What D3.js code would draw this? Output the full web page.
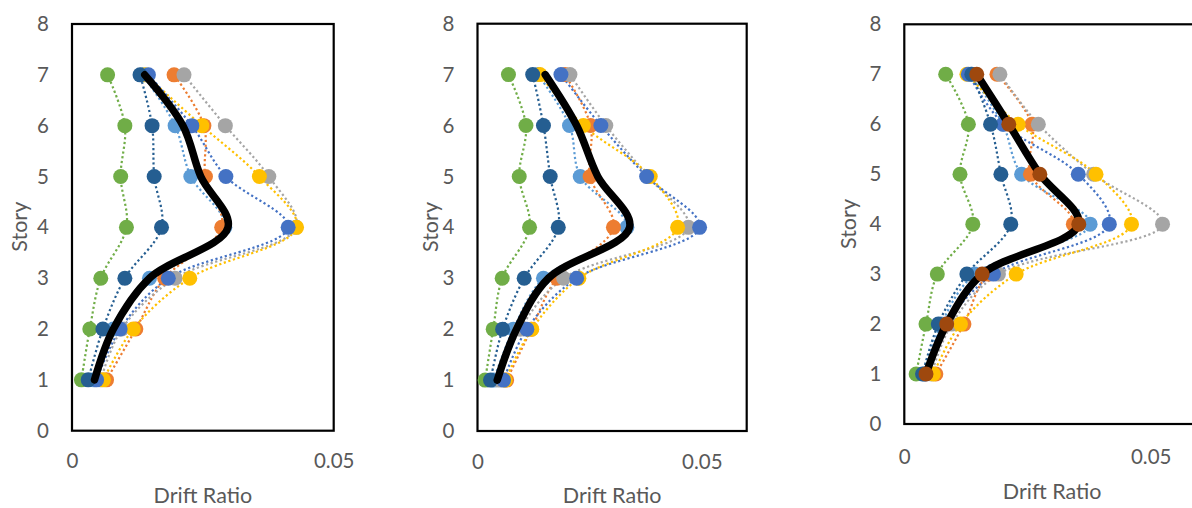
<!DOCTYPE html>
<html><head><meta charset="utf-8">
<script src="https://cdn.jsdelivr.net/npm/d3@7"></script>
<style>
html,body{margin:0;padding:0;background:#fff;}
svg text{font-family:Lato,"Open Sans",sans-serif;fill:#595959;}
</style></head>
<body><svg id="c" width="1192" height="508"></svg>
<script>
// ---- data ----
const stories = [1, 2, 3, 4, 5, 6, 7];
const yTicks = [0, 1, 2, 3, 4, 5, 6, 7, 8];
const xTicks = [0, 0.05];
const xTickLabels = ["0", "0.05"];
const xTitle = "Drift Ratio";
const yTitle = "Story";

// series names (draw order) and colours
const seriesNames = ["lightblue", "orange", "gray", "yellow", "blue", "green", "darkblue"];
const seriesColors = ["#5B9BD5", "#ED7D31", "#A5A5A5", "#FFC000", "#4472C4", "#70AD47", "#255E91"];

// panel 1 values by story 1..7
const p1_lightblue = [0.0042, 0.0079, 0.0148, 0.0292, 0.0227, 0.0197, 0.0135];
const p1_orange    = [0.0066, 0.0122, 0.0177, 0.0286, 0.0255, 0.0252, 0.0195];
const p1_gray      = [0.0055, 0.0095, 0.0197, 0.0428, 0.0376, 0.0293, 0.0214];
const p1_yellow    = [0.0060, 0.0117, 0.0225, 0.0429, 0.0358, 0.0248, 0.0140];
const p1_blue      = [0.0047, 0.0092, 0.0184, 0.0413, 0.0294, 0.0229, 0.0146];
const p1_green     = [0.0018, 0.0034, 0.0055, 0.0104, 0.0093, 0.0101, 0.0068];
const p1_darkblue  = [0.0031, 0.0059, 0.0101, 0.0171, 0.0157, 0.0153, 0.0130];
const p1_mean      = [0.0043, 0.0079, 0.0148, 0.0298, 0.0246, 0.0212, 0.0139];

// panel 2
const p2_lightblue = [0.0036, 0.0080, 0.0147, 0.0333, 0.0229, 0.0205, 0.0135];
const p2_orange    = [0.0065, 0.0120, 0.0177, 0.0303, 0.0251, 0.0252, 0.0195];
const p2_gray      = [0.0048, 0.0095, 0.0192, 0.0470, 0.0380, 0.0286, 0.0206];
const p2_yellow    = [0.0062, 0.0121, 0.0226, 0.0446, 0.0385, 0.0236, 0.0139];
const p2_blue      = [0.0058, 0.0110, 0.0221, 0.0495, 0.0377, 0.0275, 0.0186];
const p2_green     = [0.0017, 0.0035, 0.0055, 0.0116, 0.0093, 0.0108, 0.0069];
const p2_darkblue  = [0.0029, 0.0056, 0.0104, 0.0180, 0.0162, 0.0147, 0.0123];
const p2_mean      = [0.0044, 0.0087, 0.0158, 0.0339, 0.0268, 0.0221, 0.0151];

// panel 3
const p3_lightblue = [0.0040, 0.0075, 0.0143, 0.0377, 0.0238, 0.0200, 0.0135];
const p3_orange    = [0.0064, 0.0121, 0.0170, 0.0343, 0.0256, 0.0259, 0.0188];
const p3_gray      = [0.0055, 0.0096, 0.0191, 0.0524, 0.0384, 0.0272, 0.0194];
const p3_yellow    = [0.0059, 0.0114, 0.0227, 0.0461, 0.0389, 0.0231, 0.0127];
const p3_blue      = [0.0043, 0.0085, 0.0181, 0.0416, 0.0353, 0.0201, 0.0130];
const p3_green     = [0.0024, 0.0044, 0.0067, 0.0139, 0.0113, 0.0130, 0.0084];
const p3_darkblue  = [0.0037, 0.0069, 0.0127, 0.0216, 0.0196, 0.0175, 0.0137];
const p3_mean      = [0.0044, 0.0086, 0.0158, 0.0354, 0.0275, 0.0212, 0.0147];

// ---- layout ----
const panels = [
  { series: [p1_lightblue, p1_orange, p1_gray, p1_yellow, p1_blue, p1_green, p1_darkblue], mean: p1_mean, meanMarkers: false,
    xMax: 0.05, x0: 72, x1: 333.7, yB: 430.7, yT: 24, storyX: 26.7, storyY: 226.7, titleBase: 503, tickPad: 23 },
  { series: [p2_lightblue, p2_orange, p2_gray, p2_yellow, p2_blue, p2_green, p2_darkblue], mean: p2_mean, meanMarkers: false,
    xMax: 0.06, x0: 477.5, x1: 746.7, yB: 431, yT: 23.7, storyX: 438, storyY: 227, titleBase: 503, tickPad: 23 },
  { series: [p3_lightblue, p3_orange, p3_gray, p3_yellow, p3_blue, p3_green, p3_darkblue], mean: p3_mean, meanMarkers: true,
    xMax: 0.06, x0: 904.3, x1: 1200, yB: 424, yT: 24.3, storyX: 856, storyY: 224, titleBase: 499, tickPad: 25 }
];

const svg = d3.select("#c");
svg.append("rect").attr("width", 1192).attr("height", 508).attr("fill", "#fff");

panels.forEach(p => {
  const x = d3.scaleLinear().domain([0, p.xMax]).range([p.x0, p.x1]);
  const y = d3.scaleLinear().domain([0, 8]).range([p.yB, p.yT]);
  const g = svg.append("g");

  // frame
  g.append("rect").attr("x", x(0)).attr("y", y(8)).attr("width", x(p.xMax) - x(0)).attr("height", y(0) - y(8))
    .attr("fill", "none").attr("stroke", "#000").attr("stroke-width", 2.2);

  // axes
  const ya = g.append("g").attr("transform", `translate(${x(0)},0)`)
    .call(d3.axisLeft(y).tickValues(yTicks).tickSize(0).tickPadding(23).tickFormat(d3.format("d")));
  ya.select(".domain").remove();
  ya.selectAll("text").attr("font-size", 20.5).attr("fill", "#595959").attr("font-family", "Lato");

  const xa = g.append("g").attr("transform", `translate(0,${y(0)})`)
    .call(d3.axisBottom(x).tickValues(xTicks).tickSize(0).tickPadding(p.tickPad).tickFormat((d, i) => xTickLabels[i]));
  xa.select(".domain").remove();
  xa.selectAll("text").attr("font-size", 20.5).attr("fill", "#595959").attr("font-family", "Lato");

  // titles
  g.append("text").attr("x", (x(0) + x(p.xMax)) / 2).attr("y", p.titleBase).attr("text-anchor", "middle")
    .attr("font-size", 21.5).text(xTitle);
  g.append("text").attr("transform", `translate(${p.storyX},${p.storyY}) rotate(-90)`).attr("text-anchor", "middle")
    .attr("font-size", 21.5).text(yTitle);

  const line = d3.line().x(d => x(d[0])).y(d => y(d[1])).curve(d3.curveCatmullRom.alpha(0.5));
  const pts = arr => arr.map((v, i) => [v, stories[i]]);

  // dotted series lines
  p.series.forEach((s, k) => {
    g.append("path").attr("d", line(pts(s))).attr("fill", "none")
      .attr("stroke", seriesColors[k]).attr("stroke-width", 2.2).attr("stroke-dasharray", "2.2 2.6");
  });
  // markers
  p.series.forEach((s, k) => {
    g.selectAll(null).data(pts(s)).enter().append("circle")
      .attr("cx", d => x(d[0])).attr("cy", d => y(d[1])).attr("r", 7.5).attr("fill", seriesColors[k]);
  });
  // mean line
  g.append("path").attr("d", line(pts(p.mean))).attr("fill", "none").attr("stroke", "#000")
    .attr("stroke-width", 7.5).attr("stroke-linecap", "round").attr("stroke-linejoin", "round");
  if (p.meanMarkers) {
    g.selectAll(null).data(pts(p.mean)).enter().append("circle")
      .attr("cx", d => x(d[0])).attr("cy", d => y(d[1])).attr("r", 7.5).attr("fill", "#9E480E");
  }
});
</script></body></html>
